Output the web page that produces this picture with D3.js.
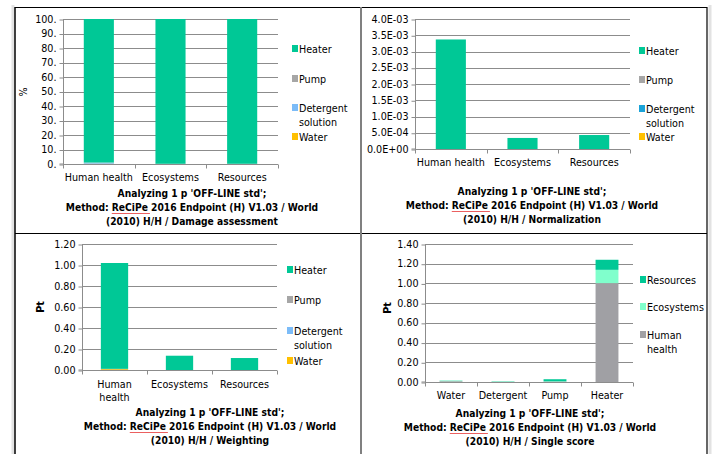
<!DOCTYPE html>
<html><head><meta charset="utf-8">
<script src="https://cdn.jsdelivr.net/npm/d3@7"></script>
<style>
body{margin:0;background:#fff;}
svg{display:block;font-family:"DejaVu Sans",sans-serif;}
</style></head><body>
<svg id="c" width="715" height="454"></svg>
<script>
// ---------- data ----------
const impactCats = ["Human health", "Ecosystems", "Resources"];
const processes = ["Water", "Detergent solution", "Pump", "Heater"];

// Damage assessment (%)
const damageWater = [0.2, 0.0, 0.0];
const damageDetergent = [0.7, 0.05, 0.05];
const damagePump = [0.1, 0.1, 0.1];
const damageHeater = [99.0, 99.85, 99.85];
const damageTicks = ["0.", "10.", "20.", "30.", "40.", "50.", "60.", "70.", "80.", "90.", "100."];

// Normalization
const normWater = [0.00001e-3, 0, 0];
const normDetergent = [0.00002e-3, 0, 0];
const normPump = [0.00001e-3, 0, 0];
const normHeater = [3.37e-3, 3.4e-4, 4.3e-4];
const normTicks = ["0.0E+00", "5.0E-04", "1.0E-03", "1.5E-03", "2.0E-03", "2.5E-03", "3.0E-03", "3.5E-03", "4.0E-03"];

// Weighting (Pt)
const weightWater = [0.008, 0.0, 0.0];
const weightDetergent = [0.002, 0.0, 0.0];
const weightPump = [0.001, 0.0, 0.0];
const weightHeater = [1.008, 0.136, 0.114];
const weightTicks = ["0.00", "0.20", "0.40", "0.60", "0.80", "1.00", "1.20"];

// Single score (Pt)
const scoreCats = ["Water", "Detergent", "Pump", "Heater"];
const scoreSeries = ["Human health", "Ecosystems", "Resources"];
const scoreHuman = [0.008, 0.002, 0.004, 1.003];
const scoreEco = [0.005, 0.004, 0.003, 0.135];
const scoreRes = [0.002, 0.002, 0.021, 0.102];
const scoreTicks = ["0.00", "0.20", "0.40", "0.60", "0.80", "1.00", "1.20", "1.40"];

const titleLine1 = "Analyzing 1 p 'OFF-LINE std';";
const titleLine2a = "Method: ";
const titleLine2b = "ReCiPe";
const titleLine2c = " 2016 Endpoint (H) V1.03 / World";
const titles3 = ["(2010) H/H / Damage assessment", "(2010) H/H / Normalization", "(2010) H/H / Weighting", "(2010) H/H / Single score"];

// ---------- drawing ----------
const svg = d3.select("#c");

// frame
svg.append("rect").attr("x", 11.5).attr("y", 5).attr("width", 3).attr("height", 449).attr("fill", "#e2e2e2");
svg.append("rect").attr("x", 708.5).attr("y", 5).attr("width", 3).attr("height", 449).attr("fill", "#e2e2e2");
svg.append("line").attr("x1", 15).attr("x2", 15).attr("y1", 7).attr("y2", 454).attr("stroke", "#000").attr("stroke-width", 1.5);
svg.append("line").attr("x1", 707).attr("x2", 707).attr("y1", 7).attr("y2", 454).attr("stroke", "#000").attr("stroke-width", 1.2);
svg.append("line").attr("x1", 15).attr("x2", 707).attr("y1", 7.5).attr("y2", 7.5).attr("stroke", "#000").attr("stroke-width", 1.2);
svg.append("line").attr("x1", 15).attr("x2", 707).attr("y1", 233.5).attr("y2", 233.5).attr("stroke", "#000").attr("stroke-width", 1.2);
svg.append("line").attr("x1", 361).attr("x2", 361).attr("y1", 7).attr("y2", 454).attr("stroke", "#808080").attr("stroke-width", 2);

const FS = 9.6;
const TFS = 10.2;

function panel(cfg) {
  const g = svg.append("g");
  const x = d3.scaleBand().domain(cfg.cats).range([cfg.x0, cfg.x1]).paddingInner(0).paddingOuter(0);
  const y = d3.scaleLinear().domain([0, cfg.ymax]).range([cfg.y1, cfg.y0]);
  const tickVals = cfg.ticks.map((t, i) => i * cfg.ymax / (cfg.ticks.length - 1));

  // gridlines
  g.selectAll(".grid").data(tickVals.slice(1)).join("line")
    .attr("x1", cfg.x0).attr("x2", cfg.x1)
    .attr("y1", d => Math.round(y(d)) + 0.5).attr("y2", d => Math.round(y(d)) + 0.5)
    .attr("stroke", "#8c8c8c").attr("stroke-width", 1);

  // y axis
  const ya = d3.axisLeft(y).tickValues(tickVals).tickSize(4).tickPadding(3)
    .tickFormat((d, i) => cfg.ticks[i]);
  const yg = g.append("g").attr("transform", `translate(${cfg.x0 + 0.5},0)`).call(ya);
  yg.select(".domain").attr("stroke", "#8c8c8c").attr("d", `M-4,${cfg.y1}H0V${cfg.y0}`);
  yg.selectAll(".tick line").attr("stroke", "#8c8c8c").attr("transform", "translate(0,0.5)");
  yg.selectAll(".tick text").attr("font-size", FS).attr("fill", "#000").attr("font-family", "DejaVu Sans");

  // bars
  const stack = d3.stack().keys(cfg.series.map((s, i) => i))
    .value((d, k) => cfg.values[k][d]);
  const idx = cfg.cats.map((c, i) => i);
  const layers = stack(idx);
  const bw = x.bandwidth() * cfg.barRatio;
  layers.forEach((layer, k) => {
    g.selectAll(null).data(layer).join("rect")
      .attr("x", (d, i) => x(cfg.cats[i]) + (x.bandwidth() - bw) / 2)
      .attr("width", bw)
      .attr("y", d => y(d[1]))
      .attr("height", d => Math.max(0, y(d[0]) - y(d[1])))
      .attr("fill", cfg.colors[k]);
  });

  // x axis
  const xa = g.append("g").attr("transform", `translate(0,${cfg.y1 + 0.5})`);
  xa.append("line").attr("x1", cfg.x0).attr("x2", cfg.x1).attr("stroke", "#8c8c8c");
  const bounds = cfg.cats.map(c => x(c)).concat([cfg.x1]);
  xa.selectAll(".xt").data(bounds).join("line")
    .attr("x1", d => Math.round(d) + 0.5).attr("x2", d => Math.round(d) + 0.5)
    .attr("y1", 0).attr("y2", 4).attr("stroke", "#8c8c8c");
  cfg.cats.forEach((c, i) => {
    const lines = cfg.catLines ? cfg.catLines[i] : [c];
    lines.forEach((ln, j) => {
      xa.append("text").attr("x", x(c) + x.bandwidth() / 2).attr("y", cfg.catDy + j * 13)
        .attr("text-anchor", "middle").attr("font-size", FS).text(ln);
    });
  });

  // y label
  if (cfg.ylabel) {
    g.append("text").attr("transform", `translate(${cfg.ylx},${cfg.yly}) rotate(-90)`)
      .attr("text-anchor", "middle").attr("font-size", FS).attr("font-weight", cfg.ylBold ? "bold" : "normal")
      .text(cfg.ylabel);
  }

  // legend
  cfg.legend.forEach((item) => {
    g.append("rect").attr("x", cfg.lx).attr("y", item.y - 4).attr("width", 6).attr("height", 7).attr("fill", item.color);
    item.lines.forEach((ln, j) => {
      g.append("text").attr("x", cfg.lx + 7).attr("y", item.y + 3.5 + j * 14).attr("font-size", FS).text(ln);
    });
  });

  // title
  const t = g.append("g").attr("font-weight", "bold").attr("font-size", TFS).attr("text-anchor", "middle")
    .attr("font-family", "DejaVu Sans Condensed");
  t.append("text").attr("x", cfg.tx).attr("y", cfg.ty).text(titleLine1);
  const t2 = t.append("text").attr("x", cfg.tx).attr("y", cfg.ty + 14);
  t2.append("tspan").text(titleLine2a);
  t2.append("tspan").text(titleLine2b);
  t2.append("tspan").text(titleLine2c);
  t.append("text").attr("x", cfg.tx).attr("y", cfg.ty + 28).text(cfg.title3);
  // spell-check squiggle under "ReCiPe"
  const node = t2.node();
  const s0 = node.getStartPositionOfChar(titleLine2a.length);
  const w = node.getSubStringLength(titleLine2a.length, titleLine2b.length);
  let d = `M${s0.x},${cfg.ty + 16}`;
  for (let xx = s0.x; xx < s0.x + w; xx += 2) {
    d += `L${xx + 1},${cfg.ty + 17}L${xx + 2},${cfg.ty + 16}`;
  }
  g.append("path").attr("d", d).attr("fill", "none").attr("stroke", "#e00000").attr("stroke-width", 0.7);
}

const C_WATER = "#ffc000", C_DET = "#7cbcf8", C_DET2 = "#1aa3d8", C_PUMP = "#a6a6a6", C_HEAT = "#00c896";
const C_HH = "#a0a0a4", C_ECO = "#80ffcc", C_RES = "#00c896";

panel({
  cats: impactCats, series: processes,
  values: [damageWater, damageDetergent, damagePump, damageHeater],
  colors: [C_WATER, C_DET, C_PUMP, C_HEAT],
  x0: 63, x1: 278, y0: 19, y1: 164, ymax: 100, ticks: damageTicks, barRatio: 0.42,
  catDy: 16, ylabel: "%", ylx: 27, yly: 92,
  lx: 292,
  legend: [{y: 49, color: C_HEAT, lines: ["Heater"]}, {y: 79, color: C_PUMP, lines: ["Pump"]},
           {y: 108, color: C_DET, lines: ["Detergent", "solution"]}, {y: 137, color: C_WATER, lines: ["Water"]}],
  tx: 192, ty: 197, title3: titles3[0]
});

panel({
  cats: impactCats, series: processes,
  values: [normWater, normDetergent, normPump, normHeater],
  colors: [C_WATER, C_DET2, C_PUMP, C_HEAT],
  x0: 415, x1: 630, y0: 19, y1: 149, ymax: 4e-3, ticks: normTicks, barRatio: 0.42,
  catDy: 16,
  lx: 639,
  legend: [{y: 51, color: C_HEAT, lines: ["Heater"]}, {y: 80, color: C_PUMP, lines: ["Pump"]},
           {y: 109, color: C_DET2, lines: ["Detergent", "solution"]}, {y: 137, color: C_WATER, lines: ["Water"]}],
  tx: 532, ty: 195, title3: titles3[1]
});

panel({
  cats: impactCats, series: processes,
  values: [weightWater, weightDetergent, weightPump, weightHeater],
  colors: [C_WATER, C_DET, C_PUMP, C_HEAT],
  x0: 82, x1: 277, y0: 244, y1: 370, ymax: 1.2, ticks: weightTicks, barRatio: 0.42,
  catDy: 17, catLines: [["Human", "health"], ["Ecosystems"], ["Resources"]],
  ylabel: "Pt", ylBold: true, ylx: 44, yly: 307,
  lx: 287,
  legend: [{y: 270, color: C_HEAT, lines: ["Heater"]}, {y: 300, color: C_PUMP, lines: ["Pump"]},
           {y: 331, color: C_DET, lines: ["Detergent", "solution"]}, {y: 361, color: C_WATER, lines: ["Water"]}],
  tx: 210, ty: 416, title3: titles3[2]
});

panel({
  cats: scoreCats, series: scoreSeries,
  values: [scoreHuman, scoreEco, scoreRes],
  colors: [C_HH, C_ECO, C_RES],
  x0: 425, x1: 633, y0: 244, y1: 382, ymax: 1.4, ticks: scoreTicks, barRatio: 0.44,
  catDy: 16,
  ylabel: "Pt", ylBold: true, ylx: 391, yly: 308,
  lx: 640,
  legend: [{y: 280, color: C_RES, lines: ["Resources"]}, {y: 307, color: C_ECO, lines: ["Ecosystems"]},
           {y: 335, color: C_HH, lines: ["Human", "health"]}],
  tx: 530, ty: 417, title3: titles3[3]
});
</script>
</body></html>
